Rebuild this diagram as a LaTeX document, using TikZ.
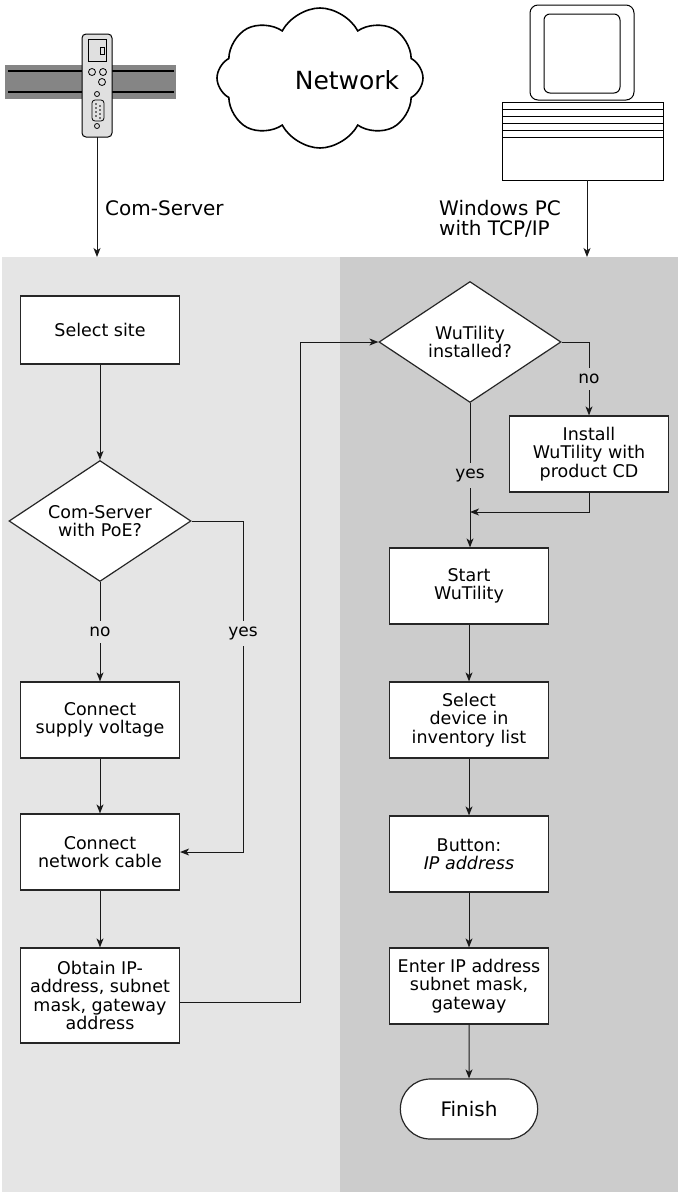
\documentclass[tikz,border=0pt]{standalone}
\usepackage{fontspec}
\setmainfont{DejaVu Sans}
\usetikzlibrary{shapes.geometric,shapes.symbols,shapes.misc,arrows.meta}
\definecolor{leftpanel}{HTML}{E5E5E5}
\definecolor{rightpanel}{HTML}{CCCCCC}
\definecolor{railgray}{HTML}{858585}
\definecolor{devicegray}{HTML}{E0E0E0}
\newcommand\boxfont{\fontsize{17.5}{18.5}\selectfont}
\newcommand\capfont{\fontsize{20}{20}\selectfont}
\newcommand\lblfont{\fontsize{17}{18}\selectfont}
\begin{document}
\begin{tikzpicture}[x=1pt,y=-1pt,
  stepbox/.style={draw=black!85,line width=1.2pt,fill=white,minimum width=159pt,minimum height=76pt,align=center,font=\boxfont,inner sep=2pt},
  decision/.style={diamond,draw=black!85,line width=1.2pt,fill=white,minimum width=182pt,minimum height=121pt,aspect=1.5,inner sep=0pt,align=center,font=\boxfont},
  arrow/.style={draw=black!90,line width=1pt,-{Stealth[length=9pt,width=7pt,inset=2.5pt]}},
  lbl/.style={fill=#1,inner xsep=2pt,inner ysep=6pt,font=\lblfont},
  caption/.style={anchor=north west,inner sep=0pt,align=left,font=\capfont}]
\useasboundingbox (0,0) rectangle (680,1194);
% panels
\fill[leftpanel] (2,257) rectangle (340,1192);
\fill[rightpanel] (340,257) rectangle (678,1192);
% rail and Com-Server
\fill[railgray] (5,65) rectangle (176,99);
\draw[line width=1.5pt] (8,71) -- (174,71);
\draw[line width=1.5pt] (8,92) -- (174,92);
\draw[fill=devicegray,line width=1pt,rounded corners=4pt] (82,34) rectangle (112,137);
\draw[line width=1pt] (88,39) rectangle (106,61);
\draw[line width=0.8pt] (100,47) rectangle (104,54);
\draw[line width=0.8pt] (92,72) circle (3.5) (103,72) circle (3.5) (102,82) circle (3.5);
\draw[line width=0.8pt] (97,94) circle (2.5) (97,126) circle (2.5);
\draw[line width=0.8pt,rounded corners=3pt] (92,100) rectangle (104,121);
\foreach \y in {104,108,112,116} \fill (96,\y) circle (0.8);
\foreach \y in {106,110,114,118} \fill (100,\y) circle (0.8);
% network cloud
\node[cloud,cloud puffs=8,cloud puff arc=125,aspect=1.5,draw,line width=1.6pt,fill=white,minimum width=206pt,minimum height=140pt,inner sep=0pt] (net) at (320,78) {};
\node[font=\fontsize{25}{25}\selectfont] (nettext) at (347,80) {Network};
% PC
\draw[line width=1pt,rounded corners=8pt] (530,5) rectangle (634,100);
\draw[line width=1pt,rounded corners=6pt] (544,14) rectangle (620,93);
\draw[line width=1pt] (502,102) rectangle (663,180);
\foreach \y in {109,116,123,130,137} \draw[line width=1pt] (502,\y) -- (663,\y);
% inputs
\coordinate (csbot) at (97,137);
\coordinate (cstop) at (97,257);
\coordinate (pcbot) at (587,180);
\coordinate (pctop) at (587,257);
\draw[arrow] (csbot) -- (cstop);
\draw[arrow] (pcbot) -- (pctop);
\node[caption] (cslabel) at (105,200) {Com-Server};
\node[caption] (pclabel) at (439,200) {Windows PC\\with TCP/IP};
% left column
\node[stepbox,minimum height=68pt] (site) at (100,330) {Select site};
\node[decision] (poe) at (100,521) {Com-Server\\with PoE?};
\node[stepbox] (supply) at (100,720) {Connect\\supply voltage};
\node[stepbox] (cable) at (100,852) {Connect\\network cable};
\node[stepbox,minimum height=95pt] (obtain) at (100,995.5) {Obtain IP-\\address, subnet\\mask, gateway\\address};
% right column
\node[decision] (wuq) at (470,342) {WuTility\\installed?};
\node[stepbox] (install) at (589,454) {Install\\WuTility with\\product CD};
\node[stepbox] (start) at (469,586) {Start\\WuTility};
\node[stepbox] (select) at (469,720) {Select\\device in\\inventory list};
\node[stepbox] (button) at (469,854) {Button:\\\textit{IP address}};
\node[stepbox] (enter) at (469,986) {Enter IP address\\subnet mask,\\gateway};
\node[rounded rectangle,draw=black!85,line width=1.2pt,fill=white,minimum width=144pt,minimum height=60pt,font=\fontsize{20}{20}\selectfont] (finish) at (469,1109) {Finish};
% connectors
\coordinate (yesbend) at (243,521);
\coordinate (loopx) at (300,1002);
\coordinate (joinpt) at (470,512);
\draw[arrow] (site) -- (poe);
\draw[arrow] (poe) -- node[lbl=leftpanel] {no} (supply);
\draw[arrow] (poe.east) -- (yesbend) |- node[lbl=leftpanel,pos=0.17] {yes} (cable.east);
\draw[arrow] (supply) -- (cable);
\draw[arrow] (cable) -- (obtain);
\draw[arrow] (obtain.east |- loopx) -- (loopx) |- (wuq.west);
\draw[arrow] (wuq.east) -| node[lbl=rightpanel,pos=0.75] {no} (install.north);
\draw[arrow] (install.south) |- (joinpt);
\draw[arrow] (wuq.south) -- node[lbl=rightpanel] {yes} (wuq.south |- start.north);
\draw[arrow] (start) -- (select);
\draw[arrow] (select) -- (button);
\draw[arrow] (button) -- (enter);
\draw[arrow] (enter) -- (finish);
\end{tikzpicture}
\end{document}
